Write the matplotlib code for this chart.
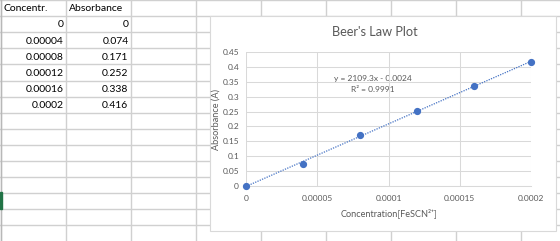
import numpy as np
import matplotlib
matplotlib.use("Agg")
import matplotlib.pyplot as plt
from matplotlib.patches import Rectangle
from matplotlib.ticker import FuncFormatter, FixedLocator

# ---- data ----
concentration = [0.0, 0.00004, 0.00008, 0.00012, 0.00016, 0.0002]
absorbance = [0.0, 0.074, 0.171, 0.252, 0.338, 0.416]
header_labels = ["Concentr.", "Absorbance"]
x_ticks = [0.0, 0.00005, 0.0001, 0.00015, 0.0002]
y_ticks = [0.0, 0.05, 0.1, 0.15, 0.2, 0.25, 0.3, 0.35, 0.4, 0.45]
title = "Beer's Law Plot"
x_label = "Concentration[FeSCN\u00b2\u207a]"
y_label = "Absorbance (A)"

FONT = ["Lato", "DejaVu Sans"]
plt.rcParams["font.family"] = FONT

W, H = 560, 241
fig = plt.figure(figsize=(W / 100, H / 100), dpi=100)
fig.patch.set_facecolor("white")


def fmt(v):
    return np.format_float_positional(v, trim="-")


# ---- spreadsheet background ----
bg = fig.add_axes([0, 0, 1, 1], zorder=0)
bg.set_xlim(0, W)
bg.set_ylim(H, 0)
bg.axis("off")

grid_c = "#d0d0d0"
row_h = 16.1
col_w = 65
for i in range(0, 16):
    bg.plot([0, W], [i * row_h, i * row_h], color=grid_c, lw=1.0, zorder=1)
for k in range(0, 10):
    x = 1 + col_w * k
    bg.plot([x, x], [0, H], color=grid_c, lw=1.0, zorder=1)
bg.plot([1.3, 1.3], [0, H], color="#b8b8b8", lw=1.0, zorder=2)
bg.add_patch(Rectangle((0, 192), 2.2, 16.5, color="#217346", zorder=3))

# table text
tfs = 7.5
bg.text(4, row_h * 0.55, header_labels[0], fontsize=tfs, va="center", ha="left", color="black")
bg.text(1 + col_w + 3, row_h * 0.55, header_labels[1], fontsize=tfs, va="center", ha="left", color="black")
for r, (c, a) in enumerate(zip(concentration, absorbance)):
    yc = (r + 1.55) * row_h
    bg.text(1 + col_w - 2.5, yc, fmt(c), fontsize=tfs, va="center", ha="right", color="black")
    bg.text(1 + 2 * col_w - 2.5, yc, fmt(a), fontsize=tfs, va="center", ha="right", color="black")

# chart box
bg.add_patch(Rectangle((210, 16), 346, 215, facecolor="white", edgecolor="#d9d9d9",
                       lw=0.8, zorder=5))

txt_c = "#595959"
bg.text(375, 32, title, fontsize=9.2, ha="center", va="center", color=txt_c, zorder=6)
bg.text(216, 120, y_label, fontsize=6.6, ha="center", va="center", rotation=90,
        color=txt_c, zorder=6)
bg.text(389, 213, x_label, fontsize=6.6, ha="center", va="center", color=txt_c, zorder=6)

# linear fit (trendline)
slope, intercept = np.polyfit(concentration, absorbance, 1)
pred = np.polyval([slope, intercept], concentration)
ss_res = np.sum((np.array(absorbance) - pred) ** 2)
ss_tot = np.sum((np.array(absorbance) - np.mean(absorbance)) ** 2)
r2 = 1 - ss_res / ss_tot
sign = "-" if intercept < 0 else "+"
eq = f"y = {slope:.1f}x {sign} {abs(intercept):.4f}"
bg.text(373, 79, eq, fontsize=6.0, ha="center", va="center", color=txt_c, zorder=6)
bg.text(373, 90, f"R\u00b2 = {r2:.4f}", fontsize=6.0, ha="center", va="center",
        color=txt_c, zorder=6)

# ---- plot area ----
x0, x1 = 246, 531
y0, y1 = 185.7, 52.3
ax = fig.add_axes([x0 / W, (H - y0) / H, (x1 - x0) / W, (y0 - y1) / H], zorder=10)
ax.set_facecolor("none")
ax.set_xlim(x_ticks[0], x_ticks[-1])
ax.set_ylim(y_ticks[0], y_ticks[-1])
ax.xaxis.set_major_locator(FixedLocator(x_ticks))
ax.yaxis.set_major_locator(FixedLocator(y_ticks))
ax.xaxis.set_major_formatter(FuncFormatter(lambda v, p: fmt(v)))
ax.yaxis.set_major_formatter(FuncFormatter(lambda v, p: fmt(round(v, 2))))
ax.grid(True, color="#d9d9d9", lw=0.75)
ax.set_axisbelow(True)
for s in ["top", "right", "left"]:
    ax.spines[s].set_visible(False)
ax.spines["bottom"].set_color("#d9d9d9")
ax.spines["bottom"].set_linewidth(0.75)
ax.tick_params(length=0, labelsize=6.0, labelcolor=txt_c)
ax.tick_params(axis="y", pad=5)
ax.tick_params(axis="x", pad=7)

xs = np.array([x_ticks[0], x_ticks[-1]])
ax.plot(xs, slope * xs + intercept, linestyle=(0, (1, 1)), color="#4472C4", lw=0.9,
        clip_on=False, zorder=3)
ax.plot(concentration, absorbance, "o", color="#4472C4", ms=4.2, clip_on=False, zorder=4)

fig.savefig("out.png", dpi=100, facecolor="white")
